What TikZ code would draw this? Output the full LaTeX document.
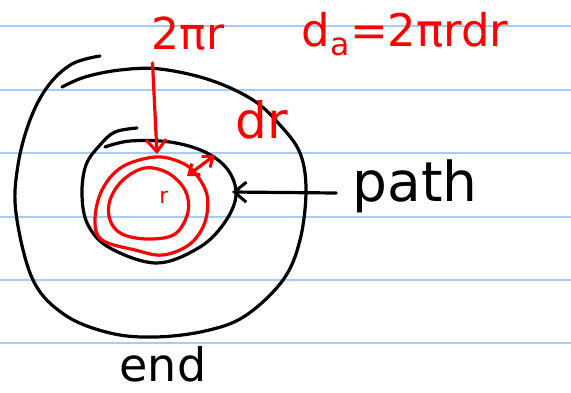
\documentclass[tikz,border=0pt]{standalone}
\usepackage{fontspec}
\setmainfont{DejaVu Sans}
\usepackage{tikz}
\usetikzlibrary{arrows.meta}
\definecolor{paperline}{RGB}{166,204,245}
\definecolor{inkred}{HTML}{FF0000}
\definecolor{inkblack}{HTML}{000000}

\begin{document}
\begin{tikzpicture}[
  x=1pt, y=-1pt,
  >={Straight Barb[length=12pt,width=20pt,line width=3pt]},
  ruled/.style={draw=paperline, line width=1.8pt},
  inkstroke/.style={draw=inkblack, line width=3.2pt, line cap=round, line join=round},
  redstroke/.style={draw=inkred, line width=3.2pt, line cap=round, line join=round},
  redtext/.style={text=inkred, inner sep=0pt},
  inktext/.style={text=inkblack, inner sep=0pt}
]
  \useasboundingbox (0,0) rectangle (571,392);

  % Ruled paper
  \foreach \ly in {26,90,153,217,280,343}
    \draw[ruled] (0,\ly) -- (571,\ly);

  % Outer and inner black loops
  \draw[inkstroke] plot[smooth, tension=0.6] coordinates {(100,56) (72,64) (48,86) (30,120) (18,165) (16,213) (33,280) (65,315) (110,333) (155,337) (205,331) (245,316) (283,280) (300,240) (306,190) (300,153) (280,125) (253,100) (210,80) (160,69) (120,70) (85,77) (62,87)};
  \draw[inkstroke] plot[smooth, tension=0.6] coordinates {(137,128) (115,132) (100,145) (86,165) (82,195) (88,225) (110,248) (157,263) (200,247) (225,222) (236,195) (228,170) (205,152) (170,142) (130,141) (105,147)};

  % Red loops
  \draw[redstroke] plot[smooth cycle, tension=0.6] coordinates {(155,157) (122,167) (102,190) (95,220) (102,240) (135,250) (163,255) (190,244) (205,222) (207,195) (195,173) (180,162)};
  \draw[redstroke] plot[smooth cycle, tension=0.6] coordinates {(145,168) (123,180) (110,200) (110,220) (122,234) (148,239) (175,234) (188,212) (185,190) (168,173)};

  % Labels
  \node[redtext, font=\fontsize{44}{44}\selectfont] (circum) at (188,34) {2πr};
  \node[redtext, font=\fontsize{45}{45}\selectfont] (area) at (405,34) {d\textsubscript{a}=2πrdr};
  \node[redtext, font=\fontsize{50}{50}\selectfont] (drlabel) at (262,120) {dr};
  \node[redtext, font=\fontsize{22}{22}\selectfont] (rlabel) at (164,197) {r};
  \node[inktext, font=\fontsize{55}{55}\selectfont] (pathlabel) at (415,186) {path};
  \node[inktext, font=\fontsize{46}{46}\selectfont] (endlabel) at (163,364) {end};

  \coordinate (redtop) at (157,154);
  \coordinate (drin) at (187,176);
  \coordinate (drout) at (215,155);
  \coordinate (innerright) at (232,192);

  % Arrows
  \draw[redstroke, ->] (circum.south west) ++(1,12) -- (redtop);
  \draw[redstroke, <->, >={Straight Barb[length=9pt,width=14pt,line width=3pt]}] (drin) -- (drout);
  \draw[inkstroke, ->] (pathlabel.west) ++(-16,7) -- (innerright);
\end{tikzpicture}
\end{document}
